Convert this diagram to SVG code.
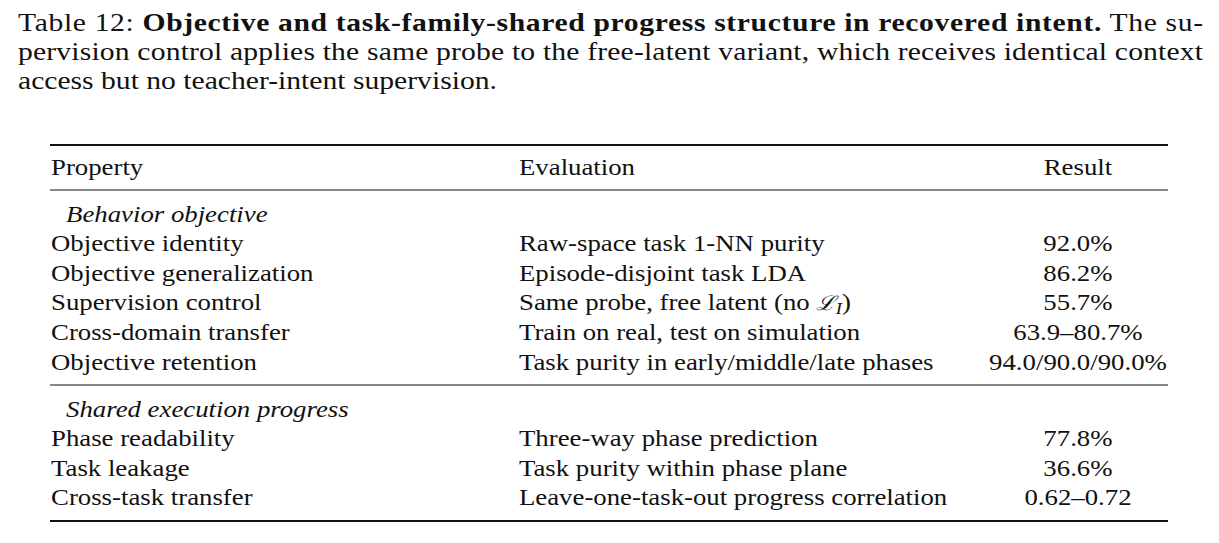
<svg xmlns="http://www.w3.org/2000/svg" width="1219" height="543" viewBox="0 0 1219 543">
<style>
text{font-family:"Liberation Serif","Times New Roman",serif;fill:#111}
.c{font-size:26px}
.t{font-size:23px}
.i{font-style:italic}
.m{text-anchor:middle}
</style>
<rect width="1219" height="543" fill="#fff"/>
<g id="caption" transform="scale(1.14,1)">
<text class="c" x="15.8" y="31" textLength="1039.5" lengthAdjust="spacing">Table 12: <tspan font-weight="bold">Objective and task-family-shared progress structure in recovered intent.</tspan> The su-</text>
<text class="c" x="15.8" y="60" textLength="1039.5" lengthAdjust="spacing">pervision control applies the same probe to the free-latent variant, which receives identical context</text>
<text class="c" x="15.8" y="89">access but no teacher-intent supervision.</text>
</g>
<g id="rules" stroke="#111">
<line x1="50" y1="145" x2="1168" y2="145" stroke-width="2"/>
<line x1="50" y1="190" x2="1168" y2="190" stroke-width="1.2"/>
<line x1="50" y1="385" x2="1168" y2="385" stroke-width="1.2"/>
<line x1="50" y1="521" x2="1168" y2="521" stroke-width="2"/>
</g>
<g id="table" transform="scale(1.165,1)">
<text class="t" x="43.8" y="175">Property</text>
<text class="t" x="445.5" y="175">Evaluation</text>
<text class="t m" x="925.3" y="175">Result</text>
<text class="t i" x="56.7" y="222">Behavior objective</text>
<text class="t" x="43.8" y="251">Objective identity</text><text class="t" x="445.5" y="251">Raw-space task 1-NN purity</text><text class="t m" x="925.3" y="251">92.0%</text>
<text class="t" x="43.8" y="281">Objective generalization</text><text class="t" x="445.5" y="281">Episode-disjoint task LDA</text><text class="t m" x="925.3" y="281">86.2%</text>
<text class="t" x="43.8" y="310">Supervision control</text><text class="t" x="445.5" y="310">Same probe, free latent (no <tspan font-family="DejaVu Serif" font-style="italic" font-size="20">ℒ</tspan><tspan class="i" font-size="16" dy="4">I</tspan><tspan dy="-4">)</tspan></text><text class="t m" x="925.3" y="310">55.7%</text>
<text class="t" x="43.8" y="340">Cross-domain transfer</text><text class="t" x="445.5" y="340">Train on real, test on simulation</text><text class="t m" x="925.3" y="340">63.9–80.7%</text>
<text class="t" x="43.8" y="370">Objective retention</text><text class="t" x="445.5" y="370">Task purity in early/middle/late phases</text><text class="t m" x="925.3" y="370">94.0/90.0/90.0%</text>
<text class="t i" x="56.7" y="417">Shared execution progress</text>
<text class="t" x="43.8" y="446">Phase readability</text><text class="t" x="445.5" y="446">Three-way phase prediction</text><text class="t m" x="925.3" y="446">77.8%</text>
<text class="t" x="43.8" y="476">Task leakage</text><text class="t" x="445.5" y="476">Task purity within phase plane</text><text class="t m" x="925.3" y="476">36.6%</text>
<text class="t" x="43.8" y="505">Cross-task transfer</text><text class="t" x="445.5" y="505">Leave-one-task-out progress correlation</text><text class="t m" x="925.3" y="505">0.62–0.72</text>
</g>
</svg>
